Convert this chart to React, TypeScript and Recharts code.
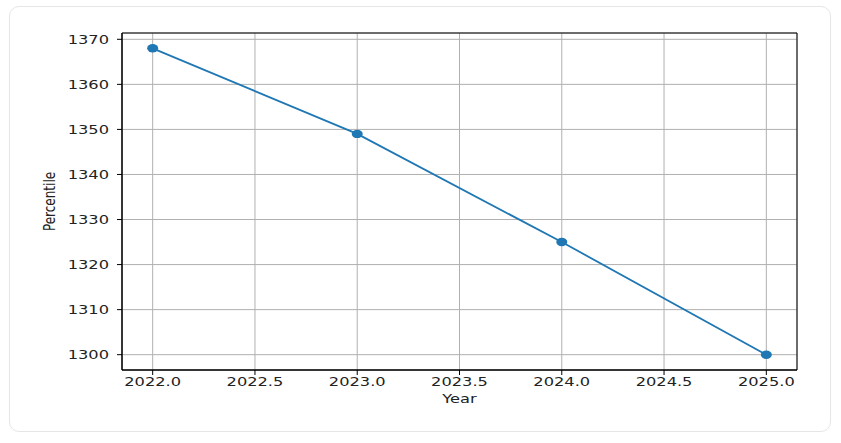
import React from "react"
import {
  LineChart,
  Line,
  XAxis,
  YAxis,
  CartesianGrid,
  ReferenceArea,
} from "recharts"

const years = [2022, 2023, 2024, 2025]
const percentile = [1368, 1349, 1325, 1300]
const xTicks = [2022, 2022.5, 2023, 2023.5, 2024, 2024.5, 2025]
const yTicks = [1300, 1310, 1320, 1330, 1340, 1350, 1360, 1370]

const data = years.map((year, i) => ({ year, value: percentile[i] }))

const X_DOMAIN: [number, number] = [2021.85, 2025.15]
const Y_DOMAIN: [number, number] = [1296.6, 1371.4]
const STRETCH = 1.3
const FONT = "DejaVu Sans, sans-serif"

function XTick(props: any) {
  const { x, y, payload } = props
  return (
    <text
      transform={`translate(${x},${y + 9}) scale(${STRETCH},1)`}
      textAnchor="middle"
      fontSize={12.5}
      fontFamily={FONT}
      fill="#222"
    >
      {Number(payload.value).toFixed(1)}
    </text>
  )
}

function YTick(props: any) {
  const { x, y, payload } = props
  return (
    <text
      transform={`translate(${x - 6},${y + 4.5}) scale(${STRETCH},1)`}
      textAnchor="end"
      fontSize={12.5}
      fontFamily={FONT}
      fill="#222"
    >
      {payload.value}
    </text>
  )
}

function XLabel(props: any) {
  const { viewBox } = props
  const cx = viewBox.x + viewBox.width / 2
  return (
    <text
      transform={`translate(${cx},${viewBox.y + 33}) scale(${STRETCH},1)`}
      textAnchor="middle"
      fontSize={12.5}
      fontFamily={FONT}
      fill="#222"
    >
      Year
    </text>
  )
}

function YLabel(props: any) {
  const { viewBox } = props
  const cy = viewBox.y + viewBox.height / 2
  return (
    <text
      transform={`translate(55,${cy}) scale(${STRETCH},1) rotate(-90)`}
      textAnchor="middle"
      fontSize={12}
      fontFamily={FONT}
      fill="#222"
    >
      Percentile
    </text>
  )
}

function Dot(props: any) {
  const { cx, cy } = props
  if (cx == null || cy == null) return null
  return <ellipse cx={cx} cy={cy} rx={5.5} ry={4.2} fill="#1f77b4" />
}

export default function App() {
  return (
    <div style={{ position: "fixed", left: 0, top: 0, width: 841, height: 443, background: "#fff" }}>
      <div
        style={{
          position: "absolute",
          left: 9,
          top: 6,
          width: 820,
          height: 424,
          border: "1px solid #e6e6e6",
          borderRadius: 10,
        }}
      />
      <div style={{ position: "absolute", left: 0, top: 0 }}>
        <LineChart
          width={841}
          height={443}
          data={data}
          margin={{ top: 33, right: 44, bottom: 43, left: 62 }}
        >
          <CartesianGrid stroke="#b0b0b0" strokeWidth={1} />
          <XAxis
            dataKey="year"
            type="number"
            domain={X_DOMAIN}
            ticks={xTicks}
            allowDataOverflow
            height={30}
            axisLine={{ stroke: "#000" }}
            tickLine={{ stroke: "#000" }}
            tickSize={5}
            tickMargin={2}
            tick={<XTick />}
            label={<XLabel />}
          />
          <YAxis
            dataKey="value"
            type="number"
            domain={Y_DOMAIN}
            ticks={yTicks}
            allowDataOverflow
            width={60}
            axisLine={{ stroke: "#000" }}
            tickLine={{ stroke: "#000" }}
            tickSize={5}
            tickMargin={2}
            tick={<YTick />}
            label={<YLabel />}
          />
          <ReferenceArea
            x1={X_DOMAIN[0]}
            x2={X_DOMAIN[1]}
            y1={Y_DOMAIN[0]}
            y2={Y_DOMAIN[1]}
            fill="none"
            stroke="#000"
            strokeWidth={1}
            ifOverflow="visible"
          />
          <Line
            dataKey="value"
            stroke="#1f77b4"
            strokeWidth={1.8}
            dot={<Dot />}
            activeDot={false}
            isAnimationActive={false}
          />
        </LineChart>
      </div>
    </div>
  )
}
